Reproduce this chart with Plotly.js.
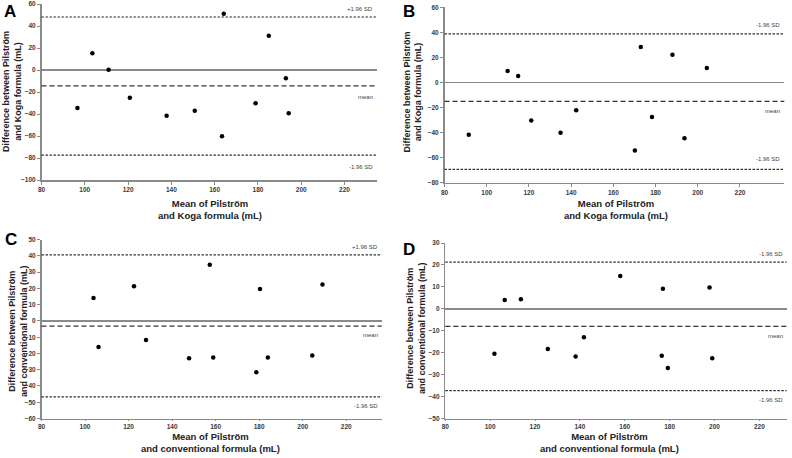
<!DOCTYPE html>
<html>
<head>
<meta charset="utf-8">
<script src="https://cdn.plot.ly/plotly-3.0.1.min.js"></script>
<style>html,body{margin:0;padding:0;background:#fff;}#chart{width:792px;height:458px;}</style>
</head>
<body>
<div id="chart"></div>
<script>
// ---- Data ----
var panelLetters = ["A", "B", "C", "D"];

var aX = [96.6, 103.5, 111, 120.8, 137.8, 150.8, 164.2, 163.4, 178.9, 185, 192.9, 194.2];
var aY = [-34.5, 15.2, 0.3, -25.2, -41.5, -37, 51.2, -60.3, -30.3, 31.2, -7.6, -39.4];
var aLines = [48.2, -14.5, -77.3];
var aLineLabels = ["+1.96 SD", "mean", "-1.96 SD"];

var bX = [91.5, 109.9, 114.9, 121.1, 135, 142.4, 170.2, 173, 178.3, 188, 193.7, 204.3];
var bY = [-41.7, 9.2, 5.2, -30.4, -40.1, -22.2, -54.2, 28.3, -27.6, 22.2, -44.5, 11.6];
var bLines = [38.8, -15.1, -69.3];
var bLineLabels = ["-1.96 SD", "mean", "-1.96 SD"];

var cX = [103.9, 106.2, 122.5, 128, 147.8, 157.3, 158.9, 178.7, 180.4, 184, 204.4, 209.1];
var cY = [14.1, -16, 21.4, -11.7, -22.9, 34.6, -22.5, -31.6, 19.6, -22.5, -21.2, 22.4];
var cLines = [40.7, -3.2, -46.7];
var cLineLabels = ["+1.96 SD", "mean", "-1.96 SD"];

var dX = [101.9, 106.5, 113.7, 125.7, 138.1, 141.8, 158, 176.5, 177, 179.2, 197.8, 199];
var dY = [-20.5, 4, 4.4, -18.3, -21.7, -13, 15, -21.4, 9.2, -27, 9.7, -22.5];
var dLines = [21.3, -8.05, -37.3];
var dLineLabels = ["-1.96 SD", "mean", "-1.96 SD"];

var yTitles = [
  "Difference between Pilström<br>and Koga formula (mL)",
  "Difference between Pilström<br>and Koga formula (mL)",
  "Difference between Pilström<br>and conventional formula (mL)",
  "Difference between Pilström<br>and conventional formula (mL)"
];
var xTitles = [
  "Mean of Pilström<br>and Koga formula (mL)",
  "Mean of Pilström<br>and Koga formula (mL)",
  "Mean of Pilström<br>and conventional formula (mL)",
  "Mean of Pilström<br>and conventional formula (mL)"
];
var yRanges = [[-100, 60], [-80, 60], [-60, 50], [-50, 30]];
var yTicks = [20, 20, 10, 10];
var xRanges = [[80, 235], [80, 241], [80, 236.3], [80, 232.2]];

// ---- Layout geometry (pixels) ----
var W = 792, H = 458;
var boxes = [ // left, right, top, bottom (px)
  [41.5, 377, 4, 180],
  [444.5, 784.3, 7.3, 182.7],
  [41.5, 381.7, 239.7, 418.5],
  [445.3, 786.7, 243, 418.5]
];
var yTitlePos = [[12, 92], [412.5, 92], [18, 331], [416, 328]];
var xTitlePos = [[210, 209], [616, 209], [210, 442], [609, 442]];
var letterPos = [[10, 11], [409, 11.5], [10.5, 239.5], [409, 249]];
var labelShifts = [
  [8, -11, -12],
  [9, -10, 10],
  [8, -9, -9],
  [8, -10, -9]
];

var panels = [
  {x: aX, y: aY, lines: aLines, labels: aLineLabels},
  {x: bX, y: bY, lines: bLines, labels: bLineLabels},
  {x: cX, y: cY, lines: cLines, labels: cLineLabels},
  {x: dX, y: dY, lines: dLines, labels: dLineLabels}
];

function px2fx(p) { return p / W; }
function py2fy(p) { return 1 - p / H; }

var traces = [], shapes = [], annotations = [];
var layout = {
  width: W, height: H, autosize: false,
  margin: {l: 0, r: 0, t: 0, b: 0, pad: 0},
  paper_bgcolor: "#fff", plot_bgcolor: "#fff",
  showlegend: false,
  font: {family: "Liberation Sans, Arial, sans-serif", color: "#333"}
};

var axisColor = "#8a8a8a";
var tickFont = {family: "Liberation Sans, Arial, sans-serif", size: 6.5, color: "#3a3a3a", weight: "bold"};

panels.forEach(function (p, i) {
  var n = i === 0 ? "" : String(i + 1);
  var xa = "x" + n, ya = "y" + n;
  var b = boxes[i];
  layout["xaxis" + n] = {
    domain: [px2fx(b[0]), px2fx(b[1])],
    range: xRanges[i],
    anchor: ya, showgrid: false, zeroline: false,
    showline: true, linecolor: axisColor, linewidth: 1.5,
    ticks: "outside", ticklen: i < 2 ? 3 : 1, tickcolor: axisColor, tickwidth: 1,
    tickfont: tickFont, fixedrange: true,
    tickvals: [80, 100, 120, 140, 160, 180, 200, 220]
  };
  layout["yaxis" + n] = {
    domain: [py2fy(b[3]), py2fy(b[2])],
    range: yRanges[i], dtick: yTicks[i],
    anchor: xa, showgrid: false,
    zeroline: true, zerolinecolor: axisColor, zerolinewidth: 1.5,
    showline: true, linecolor: axisColor, linewidth: 1.5,
    ticks: "outside", ticklen: 3, tickcolor: axisColor, tickwidth: 1,
    tickfont: tickFont, fixedrange: true
  };
  traces.push({
    type: "scatter", mode: "markers", x: p.x, y: p.y, xaxis: xa, yaxis: ya,
    marker: {color: "#000", size: 4.5, symbol: "circle"}, hoverinfo: "skip"
  });
  p.lines.forEach(function (v, k) {
    shapes.push({
      type: "line", xref: xa + " domain", yref: ya, x0: 0, x1: 1, y0: v, y1: v,
      line: {color: "#333", width: 1.2, dash: k === 1 ? "5px,3px" : "2.5px,1.5px"}
    });
    annotations.push({
      xref: xa + " domain", yref: ya, x: 1, y: v, xanchor: "right", yanchor: "middle",
      xshift: -2, yshift: labelShifts[i][k], showarrow: false, text: p.labels[k],
      font: {family: "Liberation Sans, Arial, sans-serif", size: 6, color: "#444"}
    });
  });
  annotations.push({
    xref: "paper", yref: "paper", x: px2fx(yTitlePos[i][0]), y: py2fy(yTitlePos[i][1]),
    xanchor: "center", yanchor: "middle", showarrow: false, textangle: -90,
    text: yTitles[i],
    font: {family: "Liberation Sans, Arial, sans-serif", size: 9, color: "#222", weight: "bold"}
  });
  annotations.push({
    xref: "paper", yref: "paper", x: px2fx(xTitlePos[i][0]), y: py2fy(xTitlePos[i][1]),
    xanchor: "center", yanchor: "middle", showarrow: false,
    text: xTitles[i],
    font: {family: "Liberation Sans, Arial, sans-serif", size: 9.5, color: "#222", weight: "bold"}
  });
  annotations.push({
    xref: "paper", yref: "paper", x: px2fx(letterPos[i][0]), y: py2fy(letterPos[i][1]),
    xanchor: "center", yanchor: "middle", showarrow: false,
    text: panelLetters[i],
    font: {family: "Liberation Sans, Arial, sans-serif", size: 17, color: "#000", weight: "bold"}
  });
});

layout.shapes = shapes;
layout.annotations = annotations;

Plotly.newPlot("chart", traces, layout, {staticPlot: true, displayModeBar: false});
</script>
</body>
</html>
